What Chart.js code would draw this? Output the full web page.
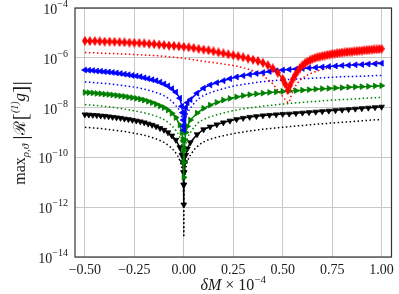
<!DOCTYPE html>
<html><head><meta charset="utf-8">
<script src="https://cdn.jsdelivr.net/npm/chart.js@4/dist/chart.umd.min.js"></script>
<style>html,body{margin:0;padding:0;background:#fff}canvas{display:block}</style>
</head><body>
<canvas id="c" width="399" height="294" style="width:399px;height:294px"></canvas>
<script>
// ---------- data ----------
const xTicks = [-0.5, -0.25, 0, 0.25, 0.5, 0.75, 1.0];
const yTickExps = [-14, -12, -10, -8, -6, -4];

// red (thin diamonds)
const redX = [-0.5,-0.475,-0.45,-0.425,-0.4,-0.375,-0.35,-0.325,-0.3,-0.275,-0.25,-0.225,-0.2,-0.175,-0.15,-0.125,-0.1,-0.075,-0.05,-0.025,
  0,0.025,0.05,0.075,0.1,0.125,0.15,0.175,0.2,0.225,0.25,0.275,0.3,0.325,0.35,0.375,0.4,0.425,0.45,0.475,
  0.5,0.5125,0.525,0.5375,0.55,0.5625,0.575,0.5875,0.6,0.6125,0.625,0.6375,0.65,0.6625,0.675,0.6875,0.7,0.7125,0.725,0.7375,
  0.75,0.7625,0.775,0.7875,0.8,0.8125,0.825,0.8375,0.85,0.8625,0.875,0.8875,0.9,0.9125,0.925,0.9375,0.95,0.9625,0.975,0.9875,1.0];
const redY = [4.79e-6,4.68e-6,4.68e-6,4.57e-6,4.47e-6,4.47e-6,4.37e-6,4.27e-6,4.17e-6,4.07e-6,3.98e-6,3.89e-6,3.80e-6,3.63e-6,3.55e-6,3.39e-6,3.24e-6,3.09e-6,3.02e-6,2.88e-6,
  2.75e-6,2.63e-6,2.45e-6,2.29e-6,2.14e-6,2.00e-6,1.82e-6,1.66e-6,1.51e-6,1.38e-6,1.26e-6,1.15e-6,1.05e-6,9.33e-7,8.32e-7,7.41e-7,6.31e-7,5.01e-7,3.80e-7,2.51e-7,
  1.41e-7,8.91e-8,5.01e-8,7.94e-8,1.32e-7,2.00e-7,2.82e-7,3.89e-7,5.01e-7,6.03e-7,7.08e-7,7.94e-7,8.91e-7,9.77e-7,1.05e-6,1.11e-6,1.17e-6,1.23e-6,1.29e-6,1.35e-6,
  1.41e-6,1.46e-6,1.51e-6,1.57e-6,1.62e-6,1.66e-6,1.70e-6,1.74e-6,1.78e-6,1.82e-6,1.86e-6,1.91e-6,1.95e-6,2.00e-6,2.04e-6,2.09e-6,2.14e-6,2.16e-6,2.19e-6,2.24e-6,2.29e-6];

// shared abscissae of the triangle series
const triX = [-0.5,-0.48,-0.46,-0.44,-0.42,-0.4,-0.38,-0.36,-0.34,-0.32,-0.3,-0.28,-0.26,-0.24,-0.22,-0.2,-0.18,-0.16,-0.14,-0.12,-0.1,-0.08,-0.06,-0.04,-0.02,
  -0.01,-0.005,-0.002,-0.0007,0,0.0007,0.002,0.005,0.01,0.018,
  0.033,0.067,0.1,0.133,0.167,0.2,0.233,0.267,0.3,0.333,0.367,0.4,0.433,0.467,0.5,0.533,0.567,0.6,0.633,0.667,0.7,0.733,0.767,0.8,0.833,0.867,0.9,0.933,0.967,1.0];
const blueY = [3.24e-7,3.16e-7,3.09e-7,2.95e-7,2.88e-7,2.75e-7,2.69e-7,2.57e-7,2.45e-7,2.34e-7,2.19e-7,2.09e-7,1.95e-7,1.86e-7,1.74e-7,1.58e-7,1.45e-7,1.32e-7,1.20e-7,1.05e-7,8.91e-8,7.41e-8,5.75e-8,4.17e-8,2.40e-8,
  1.12e-8,6.31e-9,3.16e-9,1.78e-9,1.26e-9,1.78e-9,3.16e-9,5.62e-9,1.0e-8,1.58e-8,
  2.09e-8,3.80e-8,6.03e-8,8.13e-8,1.00e-7,1.20e-7,1.45e-7,1.70e-7,1.91e-7,2.14e-7,2.34e-7,2.57e-7,2.82e-7,3.02e-7,3.24e-7,3.39e-7,3.55e-7,3.72e-7,3.89e-7,4.07e-7,4.27e-7,4.47e-7,4.68e-7,4.90e-7,5.01e-7,5.25e-7,5.37e-7,5.62e-7,5.75e-7,6.03e-7];
const greenY = [4.07e-8,3.98e-8,3.89e-8,3.72e-8,3.63e-8,3.47e-8,3.39e-8,3.24e-8,3.09e-8,2.95e-8,2.82e-8,2.63e-8,2.51e-8,2.34e-8,2.19e-8,2.00e-8,1.78e-8,1.58e-8,1.38e-8,1.17e-8,1.00e-8,7.94e-9,5.89e-9,3.98e-9,2.00e-9,
  1.0e-9,5.01e-10,2.00e-10,6.31e-11,1.58e-11,6.31e-11,2.00e-10,5.01e-10,1.0e-9,1.78e-9,
  3.16e-9,6.03e-9,9.33e-9,1.26e-8,1.62e-8,2.00e-8,2.34e-8,2.69e-8,3.02e-8,3.31e-8,3.55e-8,3.80e-8,4.07e-8,4.27e-8,4.47e-8,4.68e-8,4.79e-8,5.01e-8,5.25e-8,5.50e-8,5.75e-8,5.89e-8,6.17e-8,6.31e-8,6.61e-8,6.76e-8,6.92e-8,7.08e-8,7.41e-8,7.59e-8];
const blackY = [5.25e-9,5.13e-9,5.01e-9,4.90e-9,4.68e-9,4.57e-9,4.37e-9,4.17e-9,3.98e-9,3.80e-9,3.55e-9,3.39e-9,3.16e-9,2.95e-9,2.75e-9,2.51e-9,2.24e-9,2.00e-9,1.74e-9,1.48e-9,1.26e-9,1.00e-9,7.41e-10,5.01e-10,2.51e-10,
  1.26e-10,6.31e-11,2.51e-11,7.94e-12,1.26e-12,7.94e-12,2.51e-11,6.31e-11,1.26e-10,2.24e-10,
  3.98e-10,8.32e-10,1.32e-9,1.70e-9,2.09e-9,2.51e-9,2.95e-9,3.39e-9,3.80e-9,4.17e-9,4.47e-9,4.79e-9,5.01e-9,5.25e-9,5.50e-9,5.62e-9,5.89e-9,6.17e-9,6.46e-9,6.76e-9,7.08e-9,7.41e-9,7.76e-9,8.13e-9,8.51e-9,8.91e-9,9.33e-9,9.77e-9,1.02e-8,1.07e-8];

// dotted reference curves
const redDotX = [-0.5,-0.45,-0.4,-0.35,-0.3,-0.25,-0.2,-0.15,-0.1,-0.05,0,0.05,0.1,0.15,0.2,0.25,0.3,0.35,0.4,0.45,
  0.475,0.5,0.51,0.52,0.53,0.54,0.55,0.575,0.6,0.65,0.7,0.75,0.8,0.85,0.9,0.95,1.0];
const redDotY = [1.62e-6,1.58e-6,1.51e-6,1.48e-6,1.41e-6,1.35e-6,1.29e-6,1.23e-6,1.15e-6,1.05e-6,9.55e-7,8.32e-7,7.24e-7,6.46e-7,5.62e-7,4.90e-7,3.98e-7,3.02e-7,1.91e-7,8.91e-8,
  5.01e-8,2.82e-8,2.24e-8,1.78e-8,1.58e-8,2.51e-8,4.47e-8,9.55e-8,1.51e-7,2.51e-7,3.39e-7,4.27e-7,4.90e-7,5.37e-7,5.89e-7,6.31e-7,6.76e-7];
const dotX = [-0.5,-0.45,-0.4,-0.35,-0.3,-0.25,-0.2,-0.15,-0.1,-0.07,-0.04,-0.02,-0.01,-0.004,-0.001,0,
  0.001,0.004,0.01,0.02,0.04,0.07,0.1,0.15,0.2,0.25,0.3,0.35,0.4,0.45,0.5,0.55,0.6,0.65,0.7,0.75,0.8,0.85,0.9,0.95,1.0];
const blueDotY = [1.07e-7,1.00e-7,9.33e-8,8.51e-8,7.59e-8,6.61e-8,5.50e-8,4.27e-8,3.02e-8,2.09e-8,1.20e-8,7.08e-9,3.98e-9,2.00e-9,1.00e-9,7.94e-10,
  1.00e-9,2.00e-9,3.98e-9,6.31e-9,1.12e-8,2.09e-8,3.02e-8,4.37e-8,5.75e-8,7.24e-8,8.51e-8,9.77e-8,1.10e-7,1.20e-7,1.29e-7,1.38e-7,1.45e-7,1.51e-7,1.58e-7,1.66e-7,1.74e-7,1.78e-7,1.82e-7,1.91e-7,1.95e-7];
const greenDotY = [1.32e-8,1.23e-8,1.12e-8,1.00e-8,8.71e-9,7.41e-9,6.17e-9,4.79e-9,3.31e-9,2.19e-9,1.20e-9,6.31e-10,3.16e-10,1.26e-10,3.16e-11,5.01e-12,
  3.16e-11,1.26e-10,3.16e-10,6.31e-10,1.20e-9,2.34e-9,3.31e-9,4.68e-9,6.03e-9,7.59e-9,8.91e-9,1.02e-8,1.15e-8,1.26e-8,1.38e-8,1.51e-8,1.62e-8,1.74e-8,1.86e-8,2.00e-8,2.09e-8,2.19e-8,2.34e-8,2.45e-8,2.57e-8];
const blackDotY = [1.62e-9,1.51e-9,1.38e-9,1.23e-9,1.10e-9,9.33e-10,7.76e-10,5.89e-10,3.98e-10,2.69e-10,1.48e-10,7.41e-11,3.55e-11,1.41e-11,3.16e-12,6.31e-14,
  3.16e-12,1.41e-11,3.55e-11,7.41e-11,1.48e-10,2.82e-10,4.17e-10,5.89e-10,7.41e-10,8.91e-10,1.05e-9,1.20e-9,1.35e-9,1.48e-9,1.62e-9,1.78e-9,1.91e-9,2.09e-9,2.24e-9,2.40e-9,2.57e-9,2.75e-9,2.95e-9,3.16e-9,3.31e-9];

// ---------- build ----------
const pts = (xs, ys) => xs.map((x, i) => ({x: x, y: ys[i]}));
const SERIF = '"Liberation Serif", "DejaVu Serif", serif';

// thin diamond marker image
const dia = document.createElement('canvas');
dia.width = 6; dia.height = 10;
(function(){ const c = dia.getContext('2d'); c.fillStyle = '#ff0000';
  c.beginPath(); c.moveTo(3,0); c.lineTo(6,5); c.lineTo(3,10); c.lineTo(0,5); c.closePath(); c.fill(); })();

function markerSet(label, xs, ys, color, style, rot) {
  return {label, data: pts(xs, ys), showLine: true, borderColor: color, backgroundColor: color,
    borderWidth: 1.5, pointStyle: style, rotation: rot, pointRadius: 3.3, pointBorderWidth: 0.8,
    pointBackgroundColor: color, pointBorderColor: color, tension: 0, order: 0};
}
function dotSet(label, xs, ys, color) {
  return {label, data: pts(xs, ys), showLine: true, borderColor: color, borderWidth: 1.5,
    borderDash: [1.5, 2.5], pointRadius: 0, cubicInterpolationMode: 'monotone', order: 1};
}

function drawPieces(ctx, pieces, cx, cy, rot) {
  ctx.save();
  ctx.translate(cx, cy); ctx.rotate(rot);
  let W = 0;
  pieces.forEach(p => { ctx.font = p.f; p.w = ctx.measureText(p.t).width + (p.gap || 0); W += p.w; });
  let x = -W / 2;
  ctx.textBaseline = 'alphabetic'; ctx.textAlign = 'left'; ctx.fillStyle = '#1a1a1a';
  pieces.forEach(p => { ctx.font = p.f; ctx.fillText(p.t, x, p.dy || 0); x += p.w; });
  ctx.restore();
}

const deco = {
  id: 'deco',
  afterDraw(chart) {
    const {ctx, chartArea: a, scales} = chart;
    ctx.save();
    ctx.strokeStyle = '#333'; ctx.lineWidth = 1.2;
    ctx.strokeRect(a.left, a.top, a.right - a.left, a.bottom - a.top);
    // y tick labels 10^n
    ctx.fillStyle = '#1a1a1a'; ctx.textBaseline = 'alphabetic'; ctx.textAlign = 'left';
    yTickExps.forEach(e => {
      const py = scales.y.getPixelForValue(Math.pow(10, e));
      const sup = '\u2212' + Math.abs(e);
      ctx.font = '10px ' + SERIF; const ws = ctx.measureText(sup).width;
      ctx.font = '14px ' + SERIF; const wb = ctx.measureText('10').width;
      const right = a.left - 7;
      ctx.font = '14px ' + SERIF; ctx.fillText('10', right - ws - wb, py + 6);
      ctx.font = '10px ' + SERIF; ctx.fillText(sup, right - ws, py - 1);
    });
    ctx.restore();
    // y title
    drawPieces(ctx, [
      {t: 'max', f: '16px ' + SERIF},
      {t: '\u03C1,\u03D1', f: 'italic 11px ' + SERIF, dy: 4, gap: 4},
      {t: '|', f: '22px ' + SERIF, dy: 2},
      {t: '\u211B', f: '16px "DejaVu Serif", serif', gap: 1},
      {t: '[', f: '22px ' + SERIF, dy: 2},
      {t: '(1)', f: 'italic 10px ' + SERIF, dy: -7},
      {t: 'g', f: 'italic 17px ' + SERIF},
      {t: ']', f: '22px ' + SERIF, dy: 2},
      {t: '|', f: '22px ' + SERIF, dy: 2}
    ], 25, 133, -Math.PI / 2);
    // x title
    drawPieces(ctx, [
      {t: '\u03B4M', f: 'italic 16px ' + SERIF},
      {t: ' \u00D7 10', f: '16px ' + SERIF},
      {t: '\u22124', f: '11px ' + SERIF, dy: -7}
    ], (a.left + a.right) / 2, 290, 0);
  }
};

new Chart(document.getElementById('c'), {
  type: 'scatter',
  data: {datasets: [
    markerSet('red', redX, redY, '#ff0000', dia, 0),
    markerSet('blue', triX, blueY, '#0000ff', 'triangle', 270),
    markerSet('green', triX, greenY, '#008000', 'triangle', 90),
    markerSet('black', triX, blackY, '#000000', 'triangle', 180),
    dotSet('red ref', redDotX, redDotY, '#ff0000'),
    dotSet('blue ref', dotX, blueDotY, '#0000ff'),
    dotSet('green ref', dotX, greenDotY, '#008000'),
    dotSet('black ref', dotX, blackDotY, '#000000')
  ]},
  options: {
    responsive: false, animation: false, devicePixelRatio: 1,
    layout: {padding: {top: 8, right: 2, left: 0, bottom: 0}},
    plugins: {legend: {display: false}, tooltip: {enabled: false}},
    scales: {
      x: {type: 'linear', min: -0.55, max: 1.05,
        afterBuildTicks: s => { s.ticks = xTicks.map(v => ({value: v})); },
        afterFit: s => { s.height = 37; },
        grid: {color: '#c8c8c8', lineWidth: 1, drawTicks: false},
        border: {display: false},
        ticks: {padding: 5, color: '#1a1a1a', font: {family: SERIF, size: 14}, maxRotation: 0,
          callback: v => (v < 0 ? '\u2212' : '') + Math.abs(v).toFixed(2)}
      },
      y: {type: 'logarithmic', min: 1e-14, max: 1e-4,
        afterBuildTicks: s => { s.ticks = yTickExps.map(e => ({value: Math.pow(10, e)})); },
        afterFit: s => { s.width = 75; },
        grid: {color: '#c8c8c8', lineWidth: 1, drawTicks: false},
        border: {display: false},
        ticks: {display: false}
      }
    }
  },
  plugins: [deco]
});
</script>
</body></html>
